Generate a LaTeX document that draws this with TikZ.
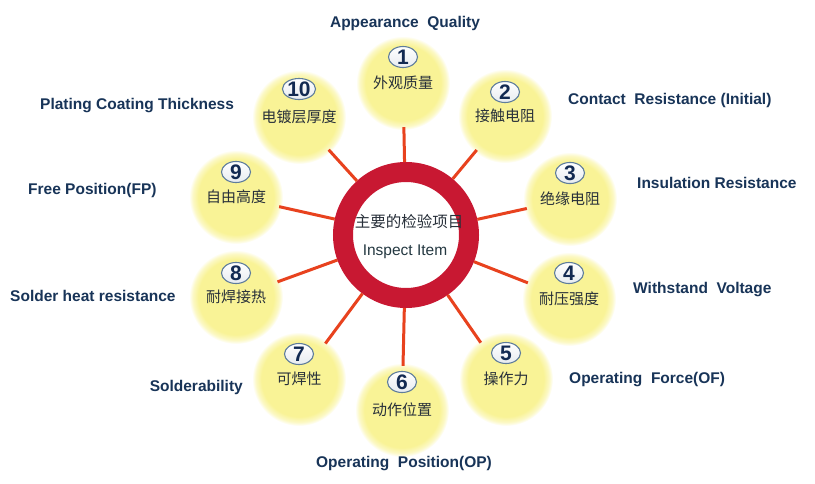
\documentclass[tikz,border=0pt]{standalone}
\usepackage{fontspec}
\setmainfont{Liberation Sans}
\newfontfamily\cjk{Noto Sans CJK SC}
\usepackage{tikz}
\usetikzlibrary{shapes.geometric,positioning,calc}
\usepackage{xcolor}
\definecolor{ringred}{RGB}{200,24,50}
\definecolor{spokered}{RGB}{232,66,30}
\definecolor{bubbleyellow}{RGB}{249,243,150}
\definecolor{labelnavy}{RGB}{24,52,88}
\definecolor{tagnavy}{RGB}{18,42,82}
\definecolor{tagedge}{RGB}{95,125,155}
\definecolor{cjkgrey}{RGB}{40,48,58}
\pgfdeclareradialshading{bubbleshade}{\pgfpoint{0bp}{0bp}}{%
  color(0bp)=(bubbleyellow); color(20bp)=(bubbleyellow);
  color(23bp)=(bubbleyellow!55!white); color(25bp)=(white)}

\begin{document}
\begin{tikzpicture}[
    x=1pt, y=-1pt,
    bubble/.style={circle, minimum size=94pt, inner sep=0pt, shading=bubbleshade,
      font=\cjk\fontsize{15}{17}\selectfont, text=cjkgrey},
    numtag/.style={ellipse, minimum width=29pt, minimum height=21pt, inner sep=0pt,
      draw=tagedge, line width=1.1pt, top color=white, bottom color=tagedge!15,
      font=\bfseries\fontsize{21}{21}\selectfont, text=tagnavy},
    ring/.style={circle, draw=ringred, line width=20pt, minimum size=126pt,
      inner sep=0pt, outer sep=10pt, fill=white},
    itemlabel/.style={inner sep=0pt, font=\bfseries\fontsize{15.5}{17}\selectfont, text=labelnavy},
    spoke/.style={spokered, line width=3pt, shorten >=-3pt}
]
\useasboundingbox (0,0) rectangle (815,483);
\fill[white] (0,0) rectangle (815,483);

% centre ring
\node[ring] (hub) at (406,235) {};
\node[font=\cjk\fontsize{15.5}{17}\selectfont, text=cjkgrey] (hubcn) at (409,222) {主要的检验项目};
\node[font=\fontsize{15.5}{17}\selectfont, text=cjkgrey!90!teal] (huben) at (405,252) {Inspect Item};

% bubbles
\node[bubble] (c1) at (403,83) {外观质量};
\node[bubble] (c2) at (505,116) {接触电阻};
\node[bubble] (c3) at (570,199) {绝缘电阻};
\node[bubble] (c4) at (569,299) {耐压强度};
\node[bubble] (c5) at (506,379) {操作力};
\node[bubble] (c6) at (402,410) {动作位置};
\node[bubble] (c7) at (299,379) {可焊性};
\node[bubble] (c8) at (236,297) {耐焊接热};
\node[bubble] (c9) at (236,197) {自由高度};
\node[bubble] (c10) at (299,117) {电镀层厚度};

\node[numtag] (n1) at ([yshift=26pt]c1.center) {1};
\node[numtag] (n2) at ([yshift=24pt]c2.center) {2};
\node[numtag] (n3) at ([yshift=26pt]c3.center) {3};
\node[numtag] (n4) at ([yshift=26pt]c4.center) {4};
\node[numtag] (n5) at ([yshift=26pt]c5.center) {5};
\node[numtag] (n6) at ([yshift=28pt]c6.center) {6};
\node[numtag] (n7) at ([yshift=25pt]c7.center) {7};
\node[numtag] (n8) at ([yshift=24pt]c8.center) {8};
\node[numtag] (n9) at ([yshift=25pt]c9.center) {9};
\node[numtag, minimum width=32pt] (n10) at ([yshift=28pt]c10.center) {10};

\draw[spoke] (hub) -- (c1);
\draw[spoke] (hub) -- (c2);
\draw[spoke] (hub) -- (c3);
\draw[spoke] (hub) -- (c4);
\draw[spoke] (hub) -- (c5);
\draw[spoke] (hub) -- (c6);
\draw[spoke] (hub) -- (c7);
\draw[spoke] (hub) -- (c8);
\draw[spoke] (hub) -- (c9);
\draw[spoke] (hub) -- (c10);

% item names
\node[itemlabel] (l1) at (405,23) {Appearance~~Quality};
\node[itemlabel, anchor=west] (l2) at (568,100) {Contact~~Resistance (Initial)};
\node[itemlabel, anchor=west] (l3) at (637,183) {Insulation Resistance};
\node[itemlabel, anchor=west] (l4) at (633,290) {Withstand~~Voltage};
\node[itemlabel, anchor=west] (l5) at (569,380) {Operating~~Force(OF)};
\node[itemlabel] (l6) at (404,464) {Operating~~Position(OP)};
\node[itemlabel, anchor=east] (l7) at (243,387) {Solderability};
\node[itemlabel, anchor=west] (l8) at (10,296) {Solder heat resistance};
\node[itemlabel, anchor=west] (l9) at (28,190) {Free Position(FP)};
\node[itemlabel, anchor=west] (l10) at (40,106) {Plating Coating Thickness};
\end{tikzpicture}
\end{document}
